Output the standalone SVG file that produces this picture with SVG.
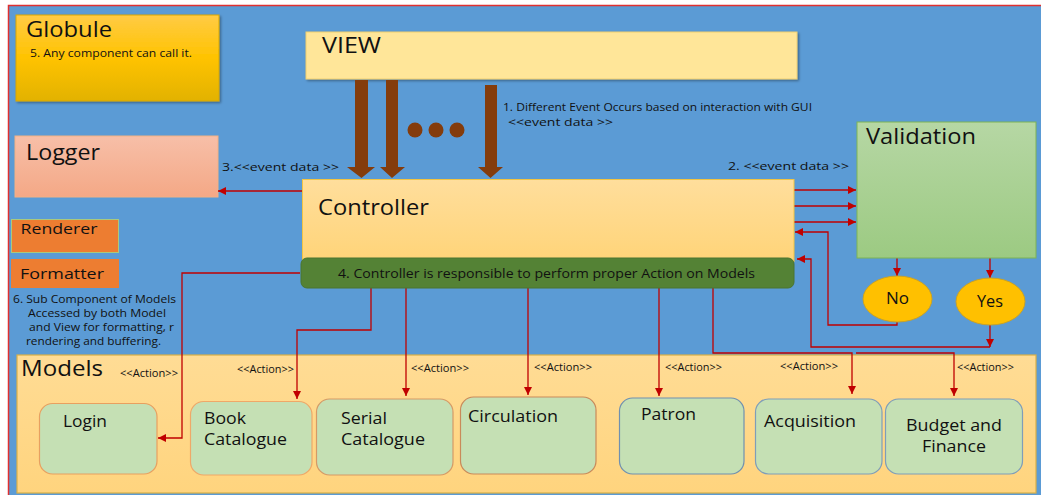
<svg xmlns="http://www.w3.org/2000/svg" width="1041" height="495" viewBox="0 0 1041 495">
  <defs>
    <linearGradient id="gGlobule" x1="0" y1="0" x2="0" y2="1">
      <stop offset="0" stop-color="#FFCB45"/>
      <stop offset="0.5" stop-color="#FFC300"/>
      <stop offset="1" stop-color="#E2B200"/>
    </linearGradient>
    <linearGradient id="gLogger" x1="0" y1="0" x2="0" y2="1">
      <stop offset="0" stop-color="#F7BFA8"/>
      <stop offset="1" stop-color="#F4A886"/>
    </linearGradient>
    <linearGradient id="gController" x1="0" y1="0" x2="0" y2="1">
      <stop offset="0" stop-color="#FFDE9C"/>
      <stop offset="1" stop-color="#FFD478"/>
    </linearGradient>
    <linearGradient id="gValidation" x1="0" y1="0" x2="0" y2="1">
      <stop offset="0" stop-color="#B6D7A4"/>
      <stop offset="1" stop-color="#9CCA82"/>
    </linearGradient>
    <linearGradient id="gModels" x1="0" y1="0" x2="0" y2="1">
      <stop offset="0" stop-color="#FFDC95"/>
      <stop offset="1" stop-color="#FFD47E"/>
    </linearGradient>
    <filter id="shadow" x="-5%" y="-5%" width="115%" height="120%">
      <feDropShadow dx="1.5" dy="1.5" stdDeviation="1" flood-color="#000" flood-opacity="0.35"/>
    </filter>
    <marker id="ah" markerUnits="userSpaceOnUse" markerWidth="9" markerHeight="8" refX="8" refY="4" orient="auto">
      <path d="M0,0 L8,4 L0,8 Z" fill="#C00000"/>
    </marker>
    <style>
      text { font-family: "Open Sans", "Liberation Sans", sans-serif; fill: #111; }
      .title { font-size: 21px; }
      .small { font-size: 11.5px; }
      .act { font-size: 10px; }
      .lbl { font-size: 17px; }
      .tag { font-size: 15px; }
      .wire { fill: none; stroke: #C00000; stroke-width: 1.3; }
      .big { fill: #843C0C; }
      .mbox { fill: #C5E0B4; stroke-width: 1.2; }
    </style>
  </defs>

  <!-- page -->
  <rect x="0" y="0" width="1041" height="495" fill="#FFFFFF"/>
  <rect x="8.5" y="5.5" width="1040" height="495" fill="#5B9BD5" stroke="#E03030" stroke-width="1.5"/>

  <!-- Globule -->
  <g id="globule">
    <rect x="16" y="15" width="203" height="86" fill="url(#gGlobule)" stroke="#D9A800" stroke-width="1" filter="url(#shadow)"/>
    <text class="title" x="26" y="37" textLength="86" lengthAdjust="spacingAndGlyphs">Globule</text>
    <text class="small" x="30" y="57" textLength="162" lengthAdjust="spacingAndGlyphs">5. Any component can call it.</text>
  </g>

  <!-- View -->
  <g id="view">
    <rect x="306" y="32" width="491" height="47" fill="#FFE699" stroke="#F0D070" stroke-width="1" filter="url(#shadow)"/>
    <text class="title" x="322" y="53" textLength="59" lengthAdjust="spacingAndGlyphs">VIEW</text>
  </g>

  <!-- event arrows from the view -->
  <g id="view-events">
    <path class="big" d="M355,80 H368 V167 H375 L361.5,178 L347,167 H355 Z"/>
    <path class="big" d="M386,80 H398 V167 H405 L392,178 L380,167 H386 Z"/>
    <path class="big" d="M485,85 H497 V167 H503 L490.5,178 L478,167 H485 Z"/>
    <circle class="big" cx="415" cy="130" r="7.5"/>
    <circle class="big" cx="436" cy="130" r="7.5"/>
    <circle class="big" cx="457" cy="130" r="7.5"/>
    <text class="small" x="503" y="111" textLength="309" lengthAdjust="spacingAndGlyphs">1. Different Event Occurs based on interaction with GUI</text>
    <text class="small" x="508" y="126" textLength="105" lengthAdjust="spacingAndGlyphs">&lt;&lt;event data &gt;&gt;</text>
  </g>

  <!-- Logger -->
  <g id="logger">
    <rect x="15" y="136" width="203" height="61" fill="url(#gLogger)" stroke="#F4B183" stroke-width="1"/>
    <text class="title" x="26" y="160" textLength="74" lengthAdjust="spacingAndGlyphs">Logger</text>
  </g>

  <!-- Renderer / Formatter -->
  <g id="renderer">
    <rect x="11.5" y="219.5" width="107" height="33" fill="#ED7D31" stroke="#A9C97E" stroke-width="1"/>
    <text class="tag" x="20.5" y="234" textLength="77" lengthAdjust="spacingAndGlyphs">Renderer</text>
  </g>
  <g id="formatter">
    <rect x="11.5" y="259.5" width="107" height="28" fill="#ED7D31" stroke="#ED7D31" stroke-width="1"/>
    <text class="tag" x="20" y="279" textLength="84" lengthAdjust="spacingAndGlyphs">Formatter</text>
  </g>
  <g id="subcomponent-note">
    <text class="small" x="13" y="303" textLength="163" lengthAdjust="spacingAndGlyphs">6. Sub Component of Models</text>
    <text class="small" x="28" y="317" textLength="138" lengthAdjust="spacingAndGlyphs">Accessed by both Model</text>
    <text class="small" x="29" y="331" textLength="145" lengthAdjust="spacingAndGlyphs">and View for formatting, r</text>
    <text class="small" x="26" y="345" textLength="135" lengthAdjust="spacingAndGlyphs">rendering and buffering.</text>
  </g>

  <!-- Models container -->
  <g id="models">
    <rect x="17" y="355" width="1019" height="138" fill="url(#gModels)" stroke="#D8B048" stroke-width="1.2"/>
    <text class="title" x="21" y="376" textLength="82" lengthAdjust="spacingAndGlyphs">Models</text>
  </g>

  <!-- connectors -->
  <g id="connectors">
    <!-- controller -> logger -->
    <path class="wire" d="M302,191 H218" marker-end="url(#ah)"/>
    <text class="small" x="222" y="171" textLength="117" lengthAdjust="spacingAndGlyphs">3.&lt;&lt;event data &gt;&gt;</text>
    <!-- controller -> validation -->
    <path class="wire" d="M794,190 H856" marker-end="url(#ah)"/>
    <path class="wire" d="M794,206 H856" marker-end="url(#ah)"/>
    <path class="wire" d="M794,222 H856" marker-end="url(#ah)"/>
    <text class="small" x="728" y="170" textLength="121" lengthAdjust="spacingAndGlyphs">2. &lt;&lt;event data &gt;&gt;</text>
    <!-- validation -> results -->
    <path class="wire" d="M897,258 V276" marker-end="url(#ah)"/>
    <path class="wire" d="M990,258 V278" marker-end="url(#ah)"/>
    <!-- results back to controller -->
    <path class="wire" d="M897,322 V325 H828 V232 H795" marker-end="url(#ah)"/>
    <path class="wire" d="M990,325 V347" marker-end="url(#ah)"/>
    <path class="wire" d="M990,347 H811 V259 H797" marker-end="url(#ah)"/>
    <!-- controller -> models -->
    <path class="wire" d="M300,273 H182 V438 H158" marker-end="url(#ah)"/>
    <path class="wire" d="M371,288 V330 H297 V399" marker-end="url(#ah)"/>
    <path class="wire" d="M406,288 V396" marker-end="url(#ah)"/>
    <path class="wire" d="M528,288 V395" marker-end="url(#ah)"/>
    <path class="wire" d="M659,288 V396" marker-end="url(#ah)"/>
    <path class="wire" d="M713,288 V353 H852 V394" marker-end="url(#ah)"/>
    <path class="wire" d="M856,353 H954 V396" marker-end="url(#ah)"/>
    <!-- action labels -->
    <text class="act" x="120" y="377" textLength="58" lengthAdjust="spacingAndGlyphs">&lt;&lt;Action&gt;&gt;</text>
    <text class="act" x="237" y="373" textLength="57" lengthAdjust="spacingAndGlyphs">&lt;&lt;Action&gt;&gt;</text>
    <text class="act" x="411" y="372" textLength="58" lengthAdjust="spacingAndGlyphs">&lt;&lt;Action&gt;&gt;</text>
    <text class="act" x="534" y="371" textLength="58" lengthAdjust="spacingAndGlyphs">&lt;&lt;Action&gt;&gt;</text>
    <text class="act" x="665" y="371" textLength="57" lengthAdjust="spacingAndGlyphs">&lt;&lt;Action&gt;&gt;</text>
    <text class="act" x="780" y="370" textLength="58" lengthAdjust="spacingAndGlyphs">&lt;&lt;Action&gt;&gt;</text>
    <text class="act" x="957" y="371" textLength="57" lengthAdjust="spacingAndGlyphs">&lt;&lt;Action&gt;&gt;</text>
  </g>

  <!-- Controller -->
  <g id="controller">
    <rect x="302.5" y="179.5" width="491.5" height="82" fill="url(#gController)" stroke="#F2C443" stroke-width="1"/>
    <text class="title" x="318" y="215" textLength="111" lengthAdjust="spacingAndGlyphs">Controller</text>
    <rect x="301" y="258" width="493" height="30" rx="6" fill="#548235" stroke="#4A7530" stroke-width="1"/>
    <text x="338" y="278" font-size="12.5" textLength="417" lengthAdjust="spacingAndGlyphs">4. Controller is responsible to perform proper Action on Models</text>
  </g>

  <!-- Validation -->
  <g id="validation">
    <rect x="857" y="122" width="179" height="136" fill="url(#gValidation)" stroke="#7DB356" stroke-width="1"/>
    <text class="title" x="866" y="144" textLength="110" lengthAdjust="spacingAndGlyphs">Validation</text>
  </g>
  <g id="no">
    <ellipse cx="897.5" cy="299" rx="34.5" ry="23" fill="#FFC000" stroke="#C9A227" stroke-width="1"/>
    <text class="lbl" x="886" y="304" textLength="23" lengthAdjust="spacingAndGlyphs">No</text>
  </g>
  <g id="yes">
    <ellipse cx="990.5" cy="301.5" rx="34.5" ry="23.5" fill="#FFC000" stroke="#C9A227" stroke-width="1"/>
    <text class="lbl" x="977" y="307" textLength="26" lengthAdjust="spacingAndGlyphs">Yes</text>
  </g>

  <!-- Model components -->
  <g id="login">
    <rect class="mbox" x="39.5" y="403.5" width="117.5" height="70.5" rx="13" stroke="#E8A060"/>
    <text class="lbl" x="63" y="427" textLength="44" lengthAdjust="spacingAndGlyphs">Login</text>
  </g>
  <g id="book-catalogue">
    <rect class="mbox" x="190.5" y="401.5" width="121.5" height="73.5" rx="13" stroke="#EFA868"/>
    <text class="lbl" x="204" y="424" textLength="42" lengthAdjust="spacingAndGlyphs">Book</text>
    <text class="lbl" x="204" y="445" textLength="83" lengthAdjust="spacingAndGlyphs">Catalogue</text>
  </g>
  <g id="serial-catalogue">
    <rect class="mbox" x="316.5" y="399" width="136.5" height="76" rx="13" stroke="#D59A66"/>
    <text class="lbl" x="341" y="424" textLength="46" lengthAdjust="spacingAndGlyphs">Serial</text>
    <text class="lbl" x="341" y="445" textLength="84" lengthAdjust="spacingAndGlyphs">Catalogue</text>
  </g>
  <g id="circulation">
    <rect class="mbox" x="460.5" y="397" width="135.5" height="77" rx="13" stroke="#C98A5A"/>
    <text class="lbl" x="468" y="422" textLength="90" lengthAdjust="spacingAndGlyphs">Circulation</text>
  </g>
  <g id="patron">
    <rect class="mbox" x="619.5" y="398" width="124.5" height="76" rx="13" stroke="#7090B0"/>
    <text class="lbl" x="641" y="420" textLength="55" lengthAdjust="spacingAndGlyphs">Patron</text>
  </g>
  <g id="acquisition">
    <rect class="mbox" x="755.5" y="399" width="126.5" height="75" rx="13" stroke="#7F9DB9"/>
    <text class="lbl" x="764" y="427" textLength="92" lengthAdjust="spacingAndGlyphs">Acquisition</text>
  </g>
  <g id="budget-finance">
    <rect class="mbox" x="885.5" y="399" width="137" height="75" rx="13" stroke="#7F9DB9"/>
    <text class="lbl" x="906" y="431" textLength="96" lengthAdjust="spacingAndGlyphs">Budget and</text>
    <text class="lbl" x="922" y="452" textLength="64" lengthAdjust="spacingAndGlyphs">Finance</text>
  </g>
</svg>
